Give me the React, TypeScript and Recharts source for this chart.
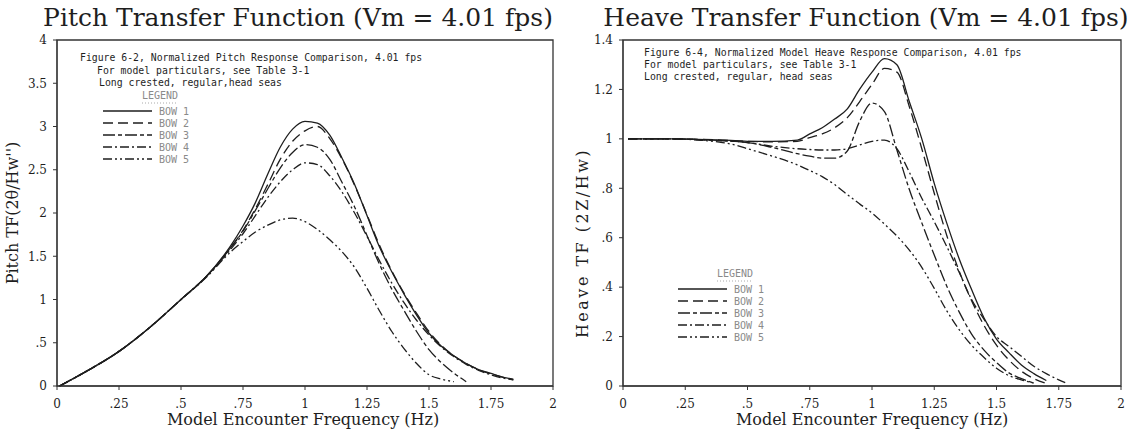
import React from 'react';
import { LineChart, Line, XAxis, YAxis, ReferenceArea, Legend } from 'recharts';

// ---------- shared ----------
const seriesKeys = ['bow1', 'bow2', 'bow3', 'bow4', 'bow5'];
const seriesNames = ['BOW 1', 'BOW 2', 'BOW 3', 'BOW 4', 'BOW 5'];
const seriesDash = ['', '10 5', '12 3 4 3', '9 3 2 3', '9 3 2 3 2 3'];

const xTicks = [0, 0.25, 0.5, 0.75, 1, 1.25, 1.5, 1.75, 2];
const xTickLabels = ['0', '.25', '.5', '.75', '1', '1.25', '1.5', '1.75', '2'];

// ---------- pitch ----------
const pitchFreq = [0.01, 0.125, 0.25, 0.375, 0.5, 0.6, 0.7, 0.75, 0.8, 0.85, 0.9, 0.95, 1.0, 1.05, 1.1, 1.15, 1.2, 1.25, 1.3, 1.35, 1.4, 1.45, 1.5, 1.55, 1.6, 1.65, 1.7, 1.75, 1.8, 1.84];
const pitchBow1 = [0, 0.18, 0.4, 0.68, 1.0, 1.26, 1.62, 1.85, 2.12, 2.45, 2.76, 2.97, 3.06, 3.04, 2.9, 2.63, 2.33, 1.97, 1.61, 1.32, 1.06, 0.82, 0.61, 0.46, 0.35, 0.26, 0.19, 0.145, 0.1, 0.08];
const pitchBow2 = [0, 0.18, 0.4, 0.68, 1.0, 1.26, 1.6, 1.8, 2.05, 2.33, 2.62, 2.83, 2.95, 3.0, 2.86, 2.62, 2.32, 1.98, 1.63, 1.33, 1.07, 0.84, 0.63, 0.47, 0.35, 0.26, 0.19, 0.14, 0.1, 0.07];
const pitchBow3 = [0, 0.18, 0.4, 0.68, 1.0, 1.26, 1.6, 1.79, 2.03, 2.28, 2.52, 2.7, 2.79, 2.76, 2.62, 2.35, 2.07, 1.74, 1.41, 1.12, 0.87, 0.63, 0.42, 0.27, 0.15, 0.05, null, null, null, null];
const pitchBow4 = [0, 0.18, 0.4, 0.68, 1.0, 1.26, 1.58, 1.76, 1.97, 2.18, 2.36, 2.5, 2.58, 2.56, 2.43, 2.24, 2.0, 1.73, 1.45, 1.19, 0.96, 0.76, 0.59, 0.45, 0.34, 0.25, 0.18, 0.13, 0.09, 0.07];
const pitchBow5 = [0, 0.18, 0.4, 0.68, 1.0, 1.25, 1.55, 1.67, 1.78, 1.86, 1.92, 1.94, 1.9, 1.81, 1.69, 1.55, 1.37, 1.13, 0.87, 0.63, 0.43, 0.26, 0.13, 0.08, 0.05, null, null, null, null, null];
const pitchTicks = [0, 0.5, 1, 1.5, 2, 2.5, 3, 3.5, 4];
const pitchTickLabels = ['0', '.5', '1', '1.5', '2', '2.5', '3', '3.5', '4'];

// ---------- heave ----------
const heaveFreq = [0.02, 0.1, 0.2, 0.3, 0.4, 0.45, 0.5, 0.6, 0.7, 0.75, 0.8, 0.85, 0.9, 0.95, 1.0, 1.05, 1.1, 1.15, 1.2, 1.25, 1.3, 1.35, 1.4, 1.45, 1.5, 1.55, 1.6, 1.65, 1.7, 1.75, 1.78];
const heaveBow1 = [1.0, 1.0, 1.0, 0.998, 0.995, 0.993, 0.99, 0.99, 0.995, 1.02, 1.045, 1.08, 1.12, 1.2, 1.27, 1.325, 1.3, 1.15, 1.0, 0.82, 0.66, 0.515, 0.39, 0.275, 0.19, 0.135, 0.085, 0.05, 0.022, null, null];
const heaveBow2 = [1.0, 1.0, 1.0, 0.998, 0.995, 0.992, 0.99, 0.988, 0.99, 1.005, 1.02, 1.045, 1.085, 1.15, 1.22, 1.285, 1.27, 1.13, 0.96, 0.78, 0.61, 0.465, 0.345, 0.245, 0.165, 0.105, 0.06, 0.03, 0.01, null, null];
const heaveBow3 = [1.0, 1.0, 1.0, 0.997, 0.992, 0.99, 0.985, 0.965, 0.94, 0.93, 0.922, 0.922, 0.95, 1.07, 1.145, 1.11, 0.955, 0.795, 0.66, 0.53, 0.405, 0.3, 0.21, 0.145, 0.095, 0.053, 0.03, 0.012, null, null, null];
const heaveBow4 = [1.0, 1.0, 1.0, 0.997, 0.993, 0.99, 0.985, 0.97, 0.96, 0.957, 0.955, 0.955, 0.96, 0.975, 0.99, 0.995, 0.96, 0.865, 0.76, 0.665, 0.565, 0.46, 0.35, 0.27, 0.2, 0.16, 0.12, 0.08, 0.05, 0.025, 0.012];
const heaveBow5 = [1.0, 1.0, 1.0, 0.995, 0.985, 0.975, 0.96, 0.93, 0.895, 0.872, 0.847, 0.815, 0.775, 0.737, 0.7, 0.655, 0.607, 0.55, 0.48, 0.395, 0.305, 0.228, 0.165, 0.115, 0.072, 0.042, 0.025, 0.012, null, null, null];
const heaveTicks = [0, 0.2, 0.4, 0.6, 0.8, 1, 1.2, 1.4];
const heaveTickLabels = ['0', '.2', '.4', '.6', '.8', '1', '1.2', '1.4'];

const buildRows = (freq: number[], series: (number | null)[][]) =>
  freq.map((f, i) => {
    const row: any = { freq: f };
    seriesKeys.forEach((k, s) => { row[k] = series[s][i]; });
    return row;
  });

const pitchData = buildRows(pitchFreq, [pitchBow1, pitchBow2, pitchBow3, pitchBow4, pitchBow5]);
const heaveData = buildRows(heaveFreq, [heaveBow1, heaveBow2, heaveBow3, heaveBow4, heaveBow5]);

const FONT_SERIF = '"DejaVu Serif", "Liberation Serif", serif';
const FONT_MONO = '"DejaVu Sans Mono", "Liberation Mono", monospace';
const INK = '#1e1e1e';
const AXIS = '#333';

const fmt = (ticks: number[], labels: string[]) => (v: number) => {
  const i = ticks.findIndex((t) => Math.abs(t - v) < 1e-6);
  return i >= 0 ? labels[i] : String(v);
};

const LegendBox = (props: any) => {
  const payload = props.payload || [];
  return (
    <svg width={110} height={84} style={{ display: 'block' }}>
      <text x={60} y={14} textAnchor="middle" fontSize={10} fill="#8a8a8a" fontFamily={FONT_MONO}>LEGEND</text>
      <line x1={42} x2={78} y1={18} y2={18} stroke="#aaa" strokeDasharray="1 2" />
      {payload.map((e: any, i: number) => {
        const y = 26 + i * 12;
        const dash = (e.payload && e.payload.strokeDasharray) || seriesDash[i];
        return (
          <g key={i}>
            <line x1={3} x2={52} y1={y} y2={y} stroke={INK} strokeWidth={1.3} strokeDasharray={dash} />
            <text x={59} y={y + 3.5} fontSize={10} fill="#8a8a8a" fontFamily={FONT_MONO}>{e.value}</text>
          </g>
        );
      })}
    </svg>
  );
};

type PanelProps = {
  left: number;
  width: number;
  rightMargin: number;
  data: any[];
  yMax: number;
  yTicks: number[];
  yLabels: string[];
  legendLeft: number;
  legendTop: number;
};

const Panel = (p: PanelProps) => (
  <div style={{ position: 'absolute', left: p.left, top: 0 }}>
    <LineChart width={p.width} height={432} data={p.data} margin={{ top: 40, right: p.rightMargin, bottom: 0, left: 0 }}>
      <XAxis
        dataKey="freq"
        type="number"
        domain={[0, 2]}
        ticks={xTicks}
        tickFormatter={fmt(xTicks, xTickLabels)}
        height={46}
        tickSize={4}
        tickMargin={9}
        stroke={AXIS}
        tick={{ fontSize: 12, fill: INK, fontFamily: FONT_SERIF }}
      />
      <YAxis
        type="number"
        domain={[0, p.yMax]}
        ticks={p.yTicks}
        tickFormatter={fmt(p.yTicks, p.yLabels)}
        width={57}
        tickSize={4}
        tickMargin={6}
        stroke={AXIS}
        tick={{ fontSize: 12, fill: INK, fontFamily: FONT_SERIF }}
      />
      <ReferenceArea x1={0} x2={2} y1={0} y2={p.yMax} fill="none" stroke={AXIS} strokeWidth={1.3} />
      {seriesKeys.map((k, i) => (
        <Line
          key={k}
          dataKey={k}
          name={seriesNames[i]}
          type="monotone"
          stroke={INK}
          strokeWidth={1.3}
          strokeDasharray={seriesDash[i] || undefined}
          dot={false}
          activeDot={false}
          isAnimationActive={false}
        />
      ))}
      <Legend
        layout="vertical"
        align="center"
        verticalAlign="middle"
        content={<LegendBox />}
        wrapperStyle={{ left: p.legendLeft, top: p.legendTop, width: 110 }}
      />
    </LineChart>
  </div>
);

const textAbs = (x: number, y: number, extra: any = {}) => ({
  position: 'absolute' as const,
  left: x,
  top: y,
  whiteSpace: 'nowrap' as const,
  ...extra,
});

const pitchNotes = [
  { text: 'Figure 6-2, Normalized Pitch Response Comparison, 4.01 fps', x: 80, y: 58 },
  { text: 'For model particulars, see Table 3-1', x: 97, y: 71 },
  { text: 'Long crested, regular,head seas', x: 99, y: 83 },
];
const heaveNotes = [
  { text: 'Figure 6-4, Normalized Model Heave Response Comparison, 4.01 fps', x: 644, y: 53 },
  { text: 'For model particulars, see Table 3-1', x: 644, y: 65 },
  { text: 'Long crested, regular, head seas', x: 644, y: 77 },
];

const titleStyle = (cx: number) =>
  textAbs(cx, 3, { transform: 'translateX(-50%)', fontFamily: FONT_SERIF, fontSize: 25, lineHeight: '29px', color: INK });
const xTitleStyle = (cx: number) =>
  textAbs(cx, 410, { transform: 'translateX(-50%)', fontFamily: FONT_SERIF, fontSize: 16, lineHeight: '19px', color: INK });

export default function App() {
  return (
    <div style={{ position: 'absolute', left: 0, top: 0, width: 1141, height: 432, background: '#fff', overflow: 'hidden' }}>
      <Panel left={0} width={570} rightMargin={17} data={pitchData} yMax={4} yTicks={pitchTicks} yLabels={pitchTickLabels} legendLeft={100} legendTop={85} />
      <Panel left={566} width={575} rightMargin={20} data={heaveData} yMax={1.4} yTicks={heaveTicks} yLabels={heaveTickLabels} legendLeft={109} legendTop={263} />

      {/* titles */}
      <div style={titleStyle(298)}>Pitch Transfer Function (Vm = 4.01 fps)</div>
      <div style={titleStyle(866)}>Heave Transfer Function (Vm = 4.01 fps)</div>

      {/* axis titles */}
      <div style={xTitleStyle(303)}>Model Encounter Frequency (Hz)</div>
      <div style={xTitleStyle(872)}>Model Encounter Frequency (Hz)</div>
      <div style={textAbs(13, 213, { transform: 'translate(-50%,-50%) rotate(-90deg)', fontFamily: FONT_SERIF, fontSize: 16, lineHeight: '18px', color: INK })}>
        Pitch TF(2θ/Hw'')
      </div>
      <div style={textAbs(583, 243, { transform: 'translate(-50%,-50%) rotate(-90deg)', fontFamily: FONT_SERIF, fontSize: 16, lineHeight: '18px', letterSpacing: '2.5px', color: INK })}>
        Heave TF (2Z/Hw)
      </div>

      {/* annotations */}
      {[...pitchNotes, ...heaveNotes].map((n, i) => (
        <div key={i} style={textAbs(n.x, n.y - 6, { fontFamily: FONT_MONO, fontSize: 9.8, lineHeight: '12px', color: INK })}>
          {n.text}
        </div>
      ))}
    </div>
  );
}
